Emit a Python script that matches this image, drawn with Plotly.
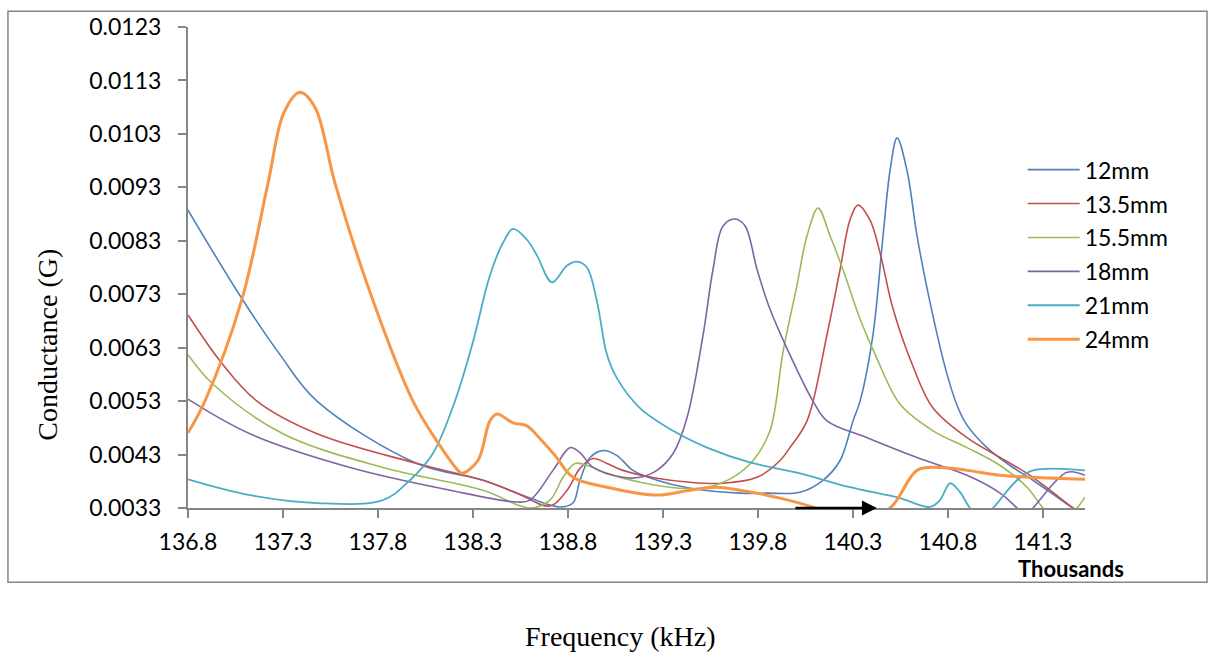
import plotly.graph_objects as go

# ---- data (frequency in kHz, conductance in G) ----
f_12 = [136.8, 137.079, 137.284, 137.479, 138.005, 138.353, 138.6, 138.758, 138.826, 138.863, 138.916, 138.984,
        139.058, 139.142, 139.268, 139.442, 139.705, 139.847, 140.021, 140.142, 140.232, 140.3, 140.337, 140.405,
        140.458, 140.495, 140.532, 140.584, 140.637, 140.705, 140.795, 140.85, 140.9, 141.005, 141.111, 141.247,
        141.374, 141.458, 141.521]
g_12 = [0.008874, 0.007244, 0.006170, 0.005300, 0.004133, 0.003819, 0.003485, 0.003319, 0.003393, 0.003819, 0.004244,
        0.004374, 0.004281, 0.004004, 0.003819, 0.003670, 0.003578, 0.003578, 0.003596, 0.003819, 0.004189, 0.004930,
        0.005300, 0.006541, 0.008393, 0.009615, 0.010226, 0.009615, 0.008393, 0.007152, 0.005800, 0.005200, 0.004850,
        0.004430, 0.004133, 0.003819, 0.003504, 0.003300, 0.003170]

f_135 = [136.8, 136.979, 137.163, 137.479, 138.005, 138.353, 138.532, 138.705, 138.795, 138.863, 138.932, 139.005,
         139.089, 139.268, 139.442, 139.616, 139.795, 139.916, 139.968, 140.058, 140.163, 140.232, 140.284, 140.326,
         140.389, 140.442, 140.511, 140.616, 140.721, 140.9, 141.074, 141.216, 141.337, 141.458, 141.521]
g_135 = [0.006911, 0.006004, 0.005300, 0.004689, 0.004133, 0.003819, 0.003578, 0.003337, 0.003633, 0.004041, 0.004226,
         0.004133, 0.004004, 0.003856, 0.003781, 0.003763, 0.003874, 0.004189, 0.004430, 0.004930, 0.006541, 0.007763,
         0.008689, 0.008967, 0.008689, 0.008078, 0.007022, 0.005948, 0.005170, 0.004615, 0.004244, 0.003948, 0.003633,
         0.003300, 0.003152]

f_155 = [136.8, 136.932, 137.3, 137.826, 138.353, 138.6, 138.705, 138.774, 138.837, 138.916, 139.005, 139.179, 139.389,
         139.532, 139.668, 139.774, 139.863, 139.932, 140.005, 140.058, 140.116, 140.179, 140.247, 140.337, 140.426,
         140.547, 140.721, 140.9, 141.074, 141.216, 141.3, 141.389, 141.479, 141.521]
g_155 = [0.006170, 0.005615, 0.004689, 0.004059, 0.003633, 0.003300, 0.003448, 0.003874, 0.004133, 0.004078, 0.003948,
         0.003781, 0.003670, 0.003689, 0.003874, 0.004189, 0.004744, 0.006226, 0.007467, 0.008393, 0.008911, 0.008393,
         0.007763, 0.006837, 0.006096, 0.005244, 0.004744, 0.004430, 0.004096, 0.003689, 0.003300, 0.002985, 0.003300,
         0.003504]

f_18 = [136.8, 137.126, 137.653, 138.179, 138.532, 138.6, 138.721, 138.811, 138.863, 138.932, 139.089, 139.179, 139.268,
        139.353, 139.426, 139.511, 139.563, 139.616, 139.679, 139.732, 139.795, 139.863, 139.953, 140.089, 140.163,
        140.374, 140.637, 140.9, 141.074, 141.163, 141.205, 141.247, 141.426, 141.521]
g_18 = [0.005337, 0.004689, 0.004059, 0.003633, 0.003411, 0.003448, 0.004004, 0.004430, 0.004337, 0.004059, 0.003874,
        0.003874, 0.004004, 0.004319, 0.004985, 0.006541, 0.007763, 0.008578, 0.008707, 0.008578, 0.007763, 0.007022,
        0.006281, 0.005300, 0.004930, 0.004615, 0.004244, 0.003911, 0.003578, 0.003300, 0.003170, 0.003300, 0.003967,
        0.003911]

f_21 = [136.8, 137.126, 137.479, 137.826, 137.968, 138.089, 138.205, 138.3, 138.389, 138.458, 138.511, 138.584, 138.637,
        138.716, 138.795, 138.847, 138.9, 138.953, 139.005, 139.058, 139.179, 139.353, 139.532, 139.758, 140.021,
        140.284, 140.547, 140.705, 140.758, 140.811, 140.863, 140.916, 140.979, 141.037, 141.163, 141.247, 141.521]
g_21 = [0.003837, 0.003541, 0.003393, 0.003448, 0.003819, 0.004319, 0.005300, 0.006411, 0.007652, 0.008263, 0.008522,
        0.008319, 0.008022, 0.007522, 0.007837, 0.007911, 0.007800, 0.007152, 0.006170, 0.005726, 0.005170, 0.004744,
        0.004430, 0.004152, 0.003948, 0.003689, 0.003485, 0.003319, 0.003448, 0.003763, 0.003596, 0.003300, 0.003115,
        0.003300, 0.003819, 0.004004, 0.004004]

f_24 = [136.8, 136.889, 137.084, 137.221, 137.305, 137.389, 137.468, 137.574, 137.758, 137.984, 138.126, 138.221,
        138.242, 138.326, 138.389, 138.426, 138.511, 138.584, 138.653, 138.732, 138.826, 139.005, 139.268, 139.442,
        139.584, 139.705, 139.916, 140.1, 140.284, 140.495, 140.637, 140.758, 140.9, 141.074, 141.247, 141.521]
g_24 = [0.004707, 0.005300, 0.007207, 0.009374, 0.010700, 0.011080, 0.010800, 0.009374, 0.007337, 0.005300, 0.004467,
        0.004004, 0.003948, 0.004189, 0.004930, 0.005059, 0.004893, 0.004837, 0.004596, 0.004281, 0.003874, 0.003689,
        0.003541, 0.003633, 0.003689, 0.003633, 0.003485, 0.003300, 0.002990, 0.003300, 0.004004, 0.004059, 0.004004,
        0.003911, 0.003874, 0.003837]

series_names = ["12mm", "13.5mm", "15.5mm", "18mm", "21mm", "24mm"]
series_x = [f_12, f_135, f_155, f_18, f_21, f_24]
series_y = [g_12, g_135, g_155, g_18, g_21, g_24]
colors = ["#4F81BD", "#C0504D", "#9BBB59", "#8064A2", "#4BACC6", "#F79646"]
widths = [1.6, 1.6, 1.6, 1.6, 1.8, 3.0]

x_range = [136.8, 141.521]
y_range = [0.0033, 0.0123]
arrow_from = 139.989
arrow_to = 140.426

fig = go.Figure()
for i, name in enumerate(series_names):
    fig.add_trace(go.Scatter(
        x=series_x[i], y=series_y[i], mode="lines", name=name,
        legendgroup=name,
        line=dict(color=colors[i], width=widths[i], shape="spline", smoothing=1.0),
    ))

sans = "Lato, 'Open Sans', sans-serif"
tick_font = dict(family=sans, size=23, color="#000000")
axis_col = "#868686"

fig.update_layout(
    width=1210, height=657,
    margin=dict(l=188, r=125, t=22, b=149),
    paper_bgcolor="white", plot_bgcolor="white",
    showlegend=True,
    legend=dict(
        x=0.9305, y=0.748, xanchor="left", yanchor="top",
        font=dict(family=sans, size=23, color="#000000"),
        bgcolor="rgba(0,0,0,0)", borderwidth=0,
        itemwidth=52, tracegroupgap=1,
    ),
    xaxis=dict(
        range=x_range, tick0=136.8, dtick=0.5, tickformat=".1f",
        showgrid=False, zeroline=False,
        showline=True, linecolor=axis_col, linewidth=2,
        ticks="outside", ticklen=8, tickwidth=2, tickcolor=axis_col,
        tickfont=tick_font, ticklabelstandoff=4,
    ),
    yaxis=dict(
        range=y_range, tick0=0.0033, dtick=0.001, tickformat=".4f",
        showgrid=False, zeroline=False,
        showline=True, linecolor=axis_col, linewidth=2,
        ticks="outside", ticklen=8, tickwidth=2, tickcolor=axis_col,
        tickfont=tick_font, ticklabelstandoff=12,
    ),
    shapes=[dict(
        type="rect", xref="paper", yref="paper",
        x0=-0.2007, x1=1.136, y0=-0.1543, y1=1.0329,
        line=dict(color=axis_col, width=1.5), fillcolor="rgba(0,0,0,0)", layer="below",
    )],
    annotations=[
        dict(text="<b>Thousands</b>", xref="paper", yref="paper", x=0.984, y=-0.125,
             xanchor="center", yanchor="middle", showarrow=False,
             font=dict(family=sans, size=22, color="#000000")),
        dict(text="Frequency (kHz)", xref="paper", yref="paper", x=0.4816, y=-0.2675,
             xanchor="center", yanchor="middle", showarrow=False,
             font=dict(family="'Liberation Serif', 'Times New Roman', serif", size=28, color="#000000")),
        dict(text="Conductance (G)", xref="paper", yref="paper", x=-0.1560, y=0.3395,
             xanchor="center", yanchor="middle", showarrow=False, textangle=-90,
             font=dict(family="'Liberation Serif', 'Times New Roman', serif", size=28, color="#000000")),
        dict(x=arrow_to, y=y_range[0], ax=arrow_from, ay=y_range[0], xref="x", yref="y",
             axref="x", ayref="y", text="", showarrow=True, arrowhead=2, arrowsize=1.2,
             arrowwidth=2.5, arrowcolor="#000000", standoff=0, startstandoff=0),
    ],
)

fig.write_html("out.html")
